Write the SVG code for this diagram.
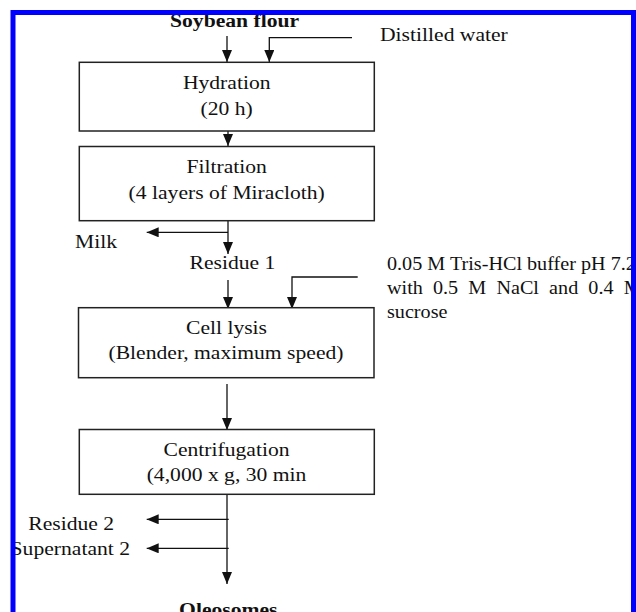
<svg xmlns="http://www.w3.org/2000/svg" width="636" height="612" viewBox="0 0 636 612">
<style>
  .t { font-family: "Liberation Serif", "Times New Roman", serif; font-size: 19.3px; fill: #111; }
  .b { font-weight: bold; }
  .c { text-anchor: middle; }
  .s { font-size: 18px; }
  .box { fill: #fff; stroke: #222; stroke-width: 1.5; }
  .ln { fill: none; stroke: #111; stroke-width: 1.3; }
</style>
<defs>
  <marker id="ah" viewBox="0 0 12 10" refX="12" refY="5" markerWidth="12" markerHeight="10" markerUnits="userSpaceOnUse" orient="auto">
    <path d="M0,0 L12,5 L0,10 z" fill="#111"/>
  </marker>
  <clipPath id="clipR"><rect x="0" y="0" width="631" height="612"/></clipPath>
</defs>
<rect x="0" y="0" width="636" height="612" fill="#fff"/>

<g id="connectors">
  <path class="ln" d="M227,36 V62" marker-end="url(#ah)"/>
  <path class="ln" d="M352,37.7 H269.3 V62" marker-end="url(#ah)"/>
  <path class="ln" d="M228,123 V146" marker-end="url(#ah)"/>
  <path class="ln" d="M228,212 V254" marker-end="url(#ah)"/>
  <path class="ln" d="M228,232.3 H146.7" marker-end="url(#ah)"/>
  <path class="ln" d="M228,280 V309" marker-end="url(#ah)"/>
  <path class="ln" d="M357.7,277 H292 V309" marker-end="url(#ah)"/>
  <path class="ln" d="M227,384 V430" marker-end="url(#ah)"/>
  <path class="ln" d="M227,487 V584" marker-end="url(#ah)"/>
  <path class="ln" d="M228.7,519.3 H146.7" marker-end="url(#ah)"/>
  <path class="ln" d="M228.7,548.3 H146.7" marker-end="url(#ah)"/>
</g>

<g id="soybean-flour">
  <text class="t b" transform="translate(170 26.7) scale(1.12 1)">Soybean flour</text>
</g>
<g id="distilled-water">
  <text class="t" transform="translate(380 40.7) scale(1.12 1)">Distilled water</text>
</g>
<g id="hydration">
  <rect class="box" x="79.3" y="62.3" width="295" height="68.7"/>
  <text class="t c" transform="translate(226.7 89.3) scale(1.12 1)">Hydration</text>
  <text class="t c" transform="translate(226.7 114.5) scale(1.12 1)">(20 h)</text>
</g>
<g id="filtration">
  <rect class="box" x="79.3" y="146.5" width="295" height="74.2"/>
  <text class="t c" transform="translate(226.7 173.3) scale(1.12 1)">Filtration</text>
  <text class="t c" transform="translate(226.7 199.3) scale(1.12 1)">(4 layers of Miracloth)</text>
</g>
<g id="milk">
  <text class="t" transform="translate(75 248.3) scale(1.12 1)">Milk</text>
</g>
<g id="residue-1">
  <text class="t" transform="translate(189.5 269.3) scale(1.12 1)">Residue 1</text>
</g>
<g id="tris-buffer" clip-path="url(#clipR)">
  <text class="t s" transform="translate(387 270) scale(1.12 1)">0.05 M Tris-HCl buffer pH 7.2</text>
  <text class="t s" transform="translate(387 294) scale(1.12 1)" word-spacing="4.56">with 0.5 M NaCl and 0.4 M</text>
  <text class="t s" transform="translate(387 318) scale(1.12 1)">sucrose</text>
</g>
<g id="cell-lysis">
  <rect class="box" x="78.5" y="307.7" width="295.5" height="70"/>
  <text class="t c" transform="translate(226.5 334) scale(1.12 1)">Cell lysis</text>
  <text class="t c" transform="translate(226 359) scale(1.12 1)">(Blender, maximum speed)</text>
</g>
<g id="centrifugation">
  <rect class="box" x="79.3" y="429.5" width="295" height="64.8"/>
  <text class="t c" transform="translate(226.5 456) scale(1.12 1)">Centrifugation</text>
  <text class="t c" transform="translate(226.5 481) scale(1.12 1)">(4,000 x g, 30 min</text>
</g>
<g id="residue-2">
  <text class="t" transform="translate(28.3 530) scale(1.12 1)">Residue 2</text>
</g>
<g id="supernatant-2">
  <text class="t" transform="translate(10.6 555) scale(1.12 1)">Supernatant 2</text>
</g>
<g id="oleosomes">
  <text class="t b c" transform="translate(228.3 616) scale(1.12 1)">Oleosomes</text>
</g>

<g id="frame">
  <rect x="13" y="12.5" width="620.5" height="700" fill="none" stroke="#0000ff" stroke-width="5"/>
</g>
</svg>
